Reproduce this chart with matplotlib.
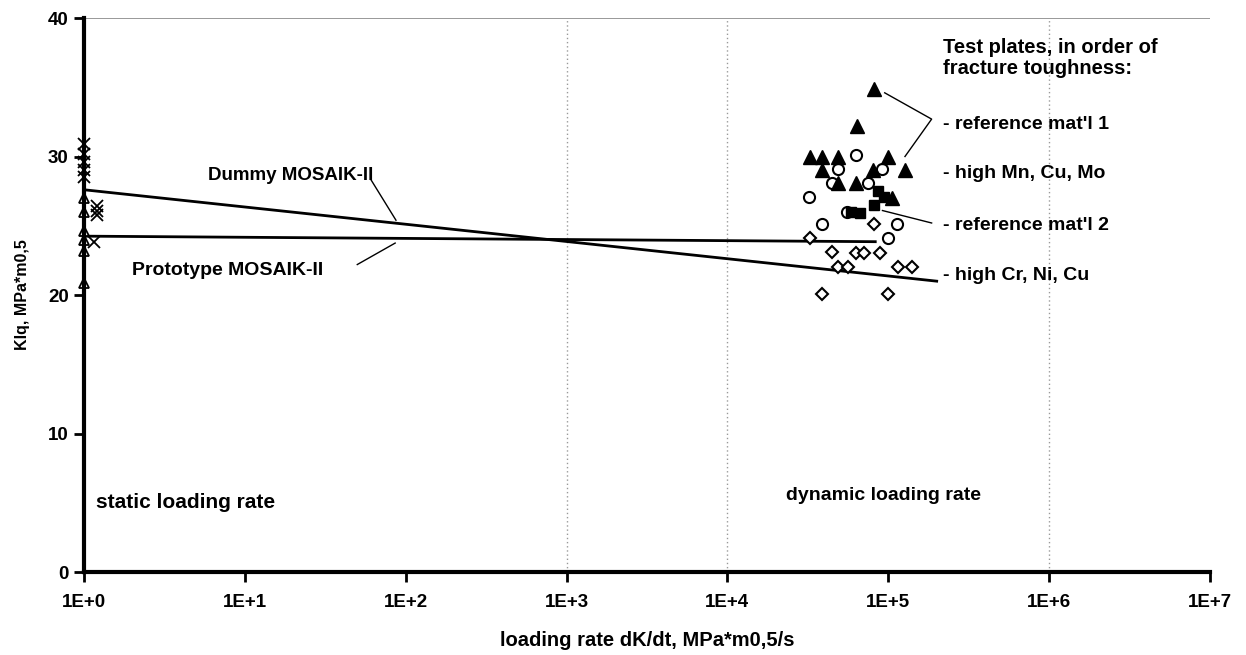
import numpy as np
import matplotlib
matplotlib.use("Agg")
import matplotlib.pyplot as plt

plt.rcParams['font.family'] = ['Liberation Sans', 'DejaVu Sans']

# static tests (x markers and open triangles near 1E+0)
static_x_rate = [1, 1, 1, 1, 1, 1.2, 1.2, 1.2, 1.15]
static_x_kiq = [30.9, 30.2, 29.6, 29.0, 28.5, 26.4, 26.1, 25.8, 23.8]
static_tri_rate = [1, 1, 1, 1, 1, 1]
static_tri_kiq = [27.0, 26.0, 24.6, 24.0, 23.2, 20.9]

# dynamic tests, one list pair per test plate
ref1_rate = [3.25e4, 3.9e4, 4.9e4, 6.4e4, 8.2e4, 1.0e5, 3.9e4, 8.0e4, 1.27e5, 4.9e4, 6.3e4, 1.05e5]
ref1_kiq = [30.0, 30.0, 30.0, 32.2, 34.9, 30.0, 29.0, 29.0, 29.0, 28.1, 28.1, 27.0]

mn_rate = [6.3e4, 4.9e4, 9.1e4, 4.5e4, 7.5e4, 3.2e4, 5.5e4, 3.9e4, 1.13e5, 1.0e5]
mn_kiq = [30.1, 29.1, 29.1, 28.1, 28.1, 27.1, 26.0, 25.1, 25.1, 24.1]

ref2_rate = [5.9e4, 6.7e4, 8.1e4, 8.6e4, 9.4e4]
ref2_kiq = [26.0, 25.9, 26.5, 27.5, 27.1]

cr_rate = [3.25e4, 4.5e4, 6.3e4, 7.1e4, 8.9e4, 4.9e4, 5.6e4, 1.15e5, 1.4e5, 3.9e4, 1.0e5, 8.1e4]
cr_kiq = [24.1, 23.1, 23.0, 23.0, 23.0, 22.0, 22.0, 22.0, 22.0, 20.1, 20.1, 25.1]

# trend lines
dummy_rate = [1, 2.0e5]
dummy_kiq = [27.6, 21.0]
proto_rate = [1, 8.3e4]
proto_kiq = [24.25, 23.85]

fig = plt.figure(figsize=(12.46, 6.55), dpi=100)
ax = fig.add_axes([0.0674, 0.1267, 0.9037, 0.8458])
ax.set_xscale('log')
ax.set_xlim(1, 1e7)
ax.set_ylim(0, 40)

for xv in [1e3, 1e4, 1e6]:
    ax.axvline(xv, color='#999999', lw=1, ls=(0, (1, 2)), zorder=0)
ax.axhline(40, color='#888888', lw=1.2, zorder=0)

ax.plot(dummy_rate, dummy_kiq, color='black', lw=2, zorder=2)
ax.plot(proto_rate, proto_kiq, color='black', lw=2, zorder=2)

ax.plot(static_tri_rate, static_tri_kiq, ls='none', marker='^', ms=7, mfc='white', mec='black', mew=1.3, clip_on=False, zorder=3)
ax.plot(static_x_rate, static_x_kiq, ls='none', marker='x', ms=8, color='black', mew=1.3, clip_on=False, zorder=6)

ax.plot(mn_rate, mn_kiq, ls='none', marker='o', ms=8, mfc='white', mec='black', mew=1.5, zorder=3)
ax.plot(cr_rate, cr_kiq, ls='none', marker='D', ms=6.5, mfc='white', mec='black', mew=1.5, zorder=3)
ax.plot(ref2_rate, ref2_kiq, ls='none', marker='s', ms=7.5, color='black', zorder=4)
ax.plot(ref1_rate, ref1_kiq, ls='none', marker='^', ms=10, color='black', zorder=4)

for s in ['top', 'right']:
    ax.spines[s].set_visible(False)
for s in ['left', 'bottom']:
    ax.spines[s].set_linewidth(3)
    ax.spines[s].set_zorder(5)

ax.set_xticks([10 ** k for k in range(8)])
ax.set_xticklabels(['1E+%d' % k for k in range(8)])
ax.xaxis.set_minor_locator(matplotlib.ticker.NullLocator())
ax.set_yticks([0, 10, 20, 30, 40])
ax.tick_params(axis='both', direction='out', length=7, width=2, labelsize=13.5)
ax.tick_params(axis='x', pad=9)
ax.tick_params(axis='y', pad=4)
for lab in ax.get_xticklabels() + ax.get_yticklabels():
    lab.set_fontweight('bold')

ax.set_xlabel('loading rate dK/dt, MPa*m0,5/s', fontsize=14.5, fontweight='bold', labelpad=14)
ax.set_ylabel('KIq, MPa*m0,5', fontsize=11.5, fontweight='bold', labelpad=13)

tk = dict(fontsize=14, fontweight='bold', va='center')
ax.text(1.18, 5.0, 'static loading rate', fontsize=15, fontweight='bold', va='center')
ax.text(2.3e4, 5.5, 'dynamic loading rate', **tk)
ax.text(5.9, 28.6, 'Dummy MOSAIK-II', fontsize=13.5, fontweight='bold', va='center')
ax.text(2.0, 21.8, 'Prototype MOSAIK-II', fontsize=14, fontweight='bold', va='center')
ax.plot([61, 87], [28.3, 25.4], color='black', lw=1)
ax.plot([50, 86], [22.2, 23.75], color='black', lw=1)

lx = 2.18e5
ax.text(lx, 37.1, 'Test plates, in order of\nfracture toughness:', fontsize=14.5,
        fontweight='bold', va='center', linespacing=1.15)
ax.text(lx, 32.3, "- reference mat'l 1", **tk)
ax.text(lx, 28.8, '- high Mn, Cu, Mo', **tk)
ax.text(lx, 25.05, "- reference mat'l 2", **tk)
ax.text(lx, 21.4, '- high Cr, Ni, Cu', **tk)
ax.plot([9.5e4, 1.86e5, 1.27e5], [34.6, 32.7, 30.0], color='black', lw=1)
ax.plot([9.2e4, 1.86e5], [26.1, 25.2], color='black', lw=1)

fig.savefig('out.png', dpi=100)
